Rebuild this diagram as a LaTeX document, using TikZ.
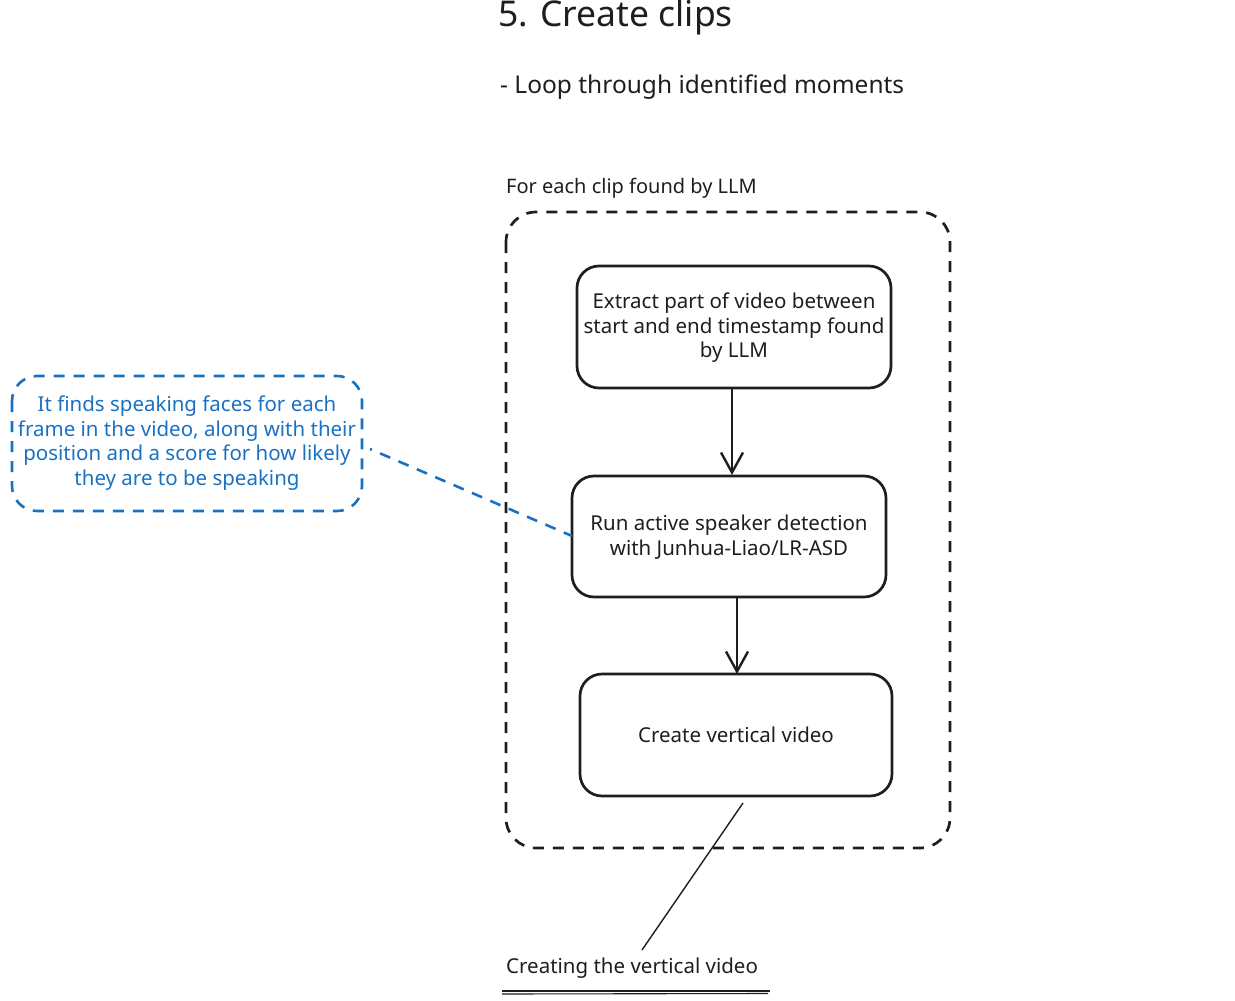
\documentclass[tikz,border=0pt]{standalone}
\usepackage{fontspec}
\setmainfont{Noto Sans}
\usetikzlibrary{arrows.meta}
\definecolor{exblue}{HTML}{1971C2}
\definecolor{exink}{HTML}{1E1E1E}
\tikzset{
  stepbox/.style={draw=exink, line width=2.7pt, rounded corners=22pt, fill=white},
  boxtext/.style={font=\fontsize{20.5}{24.5}\selectfont, text=exink, align=center},
  flow/.style={draw=exink, line width=2.7pt, -{Straight Barb[length=20pt,width=22pt,line width=2.4pt]}},
  note/.style={draw=exblue, line width=2.6pt, dash pattern=on 11pt off 9pt, rounded corners=25pt},
}
\begin{document}
\begin{tikzpicture}[x=1pt,y=-1pt]
\useasboundingbox (0,0) rectangle (1235,1001);
% titles
\node[anchor=base west, font=\fontsize{35.5}{40}\selectfont, text=exink, inner sep=0] (title) at (498,26) {5. Create clips};
\node[anchor=west, font=\fontsize{24.5}{28}\selectfont, text=exink, inner sep=0] (sub) at (500,87) {- Loop through identified moments};
\node[anchor=west, font=\fontsize{20}{24}\selectfont, text=exink, inner sep=0] (grp) at (506,188) {For each clip found by LLM};
% container
\draw[draw=exink, line width=2.7pt, dash pattern=on 11pt off 9pt, rounded corners=30pt] (506,212) rectangle (950,848);
% boxes
\draw[stepbox] (577,266) rectangle (891,388);
\node[boxtext] (b1) at (734,328) {Extract part of video between\\start and end timestamp found\\by LLM};
\draw[stepbox] (572,476) rectangle (886,597);
\node[boxtext] (b2) at (729,537) {Run active speaker detection\\with Junhua-Liao/LR-ASD};
\draw[stepbox] (580,674) rectangle (892,796);
\node[boxtext] (b3) at (736,735) {Create vertical video};
\coordinate (b1s) at (732,388);
\coordinate (b2n) at (732,475);
\coordinate (b2s) at (737,597);
\coordinate (b3n) at (737,674);
\draw[flow] (b1s) -- (b2n);
\draw[flow] (b2s) -- (b3n);
% note
\draw[note] (12,376) rectangle (362,511);
\node[boxtext, text=exblue] (nt) at (187,443) {It finds speaking faces for each\\frame in the video, along with their\\position and a score for how likely\\they are to be speaking};
\coordinate (n1) at (370,449);
\coordinate (n2) at (572,536);
\draw[exblue, line width=2.6pt, dash pattern=on 11pt off 9pt, dash phase=9pt] (n1) -- (n2);
% bottom
\coordinate (l1) at (743,803);
\coordinate (l2) at (642,950);
\draw[exink, line width=1.4pt] (l1) -- (l2);
\node[anchor=west, font=\fontsize{20.5}{24}\selectfont, text=exink, inner sep=0] (cap) at (506,968) {Creating the vertical video};
\draw[exink, line width=1.1pt] (502,991) -- (770,991);
\draw[exink, line width=1.1pt] (502,994) -- (768,993.5);
\end{tikzpicture}
\end{document}
